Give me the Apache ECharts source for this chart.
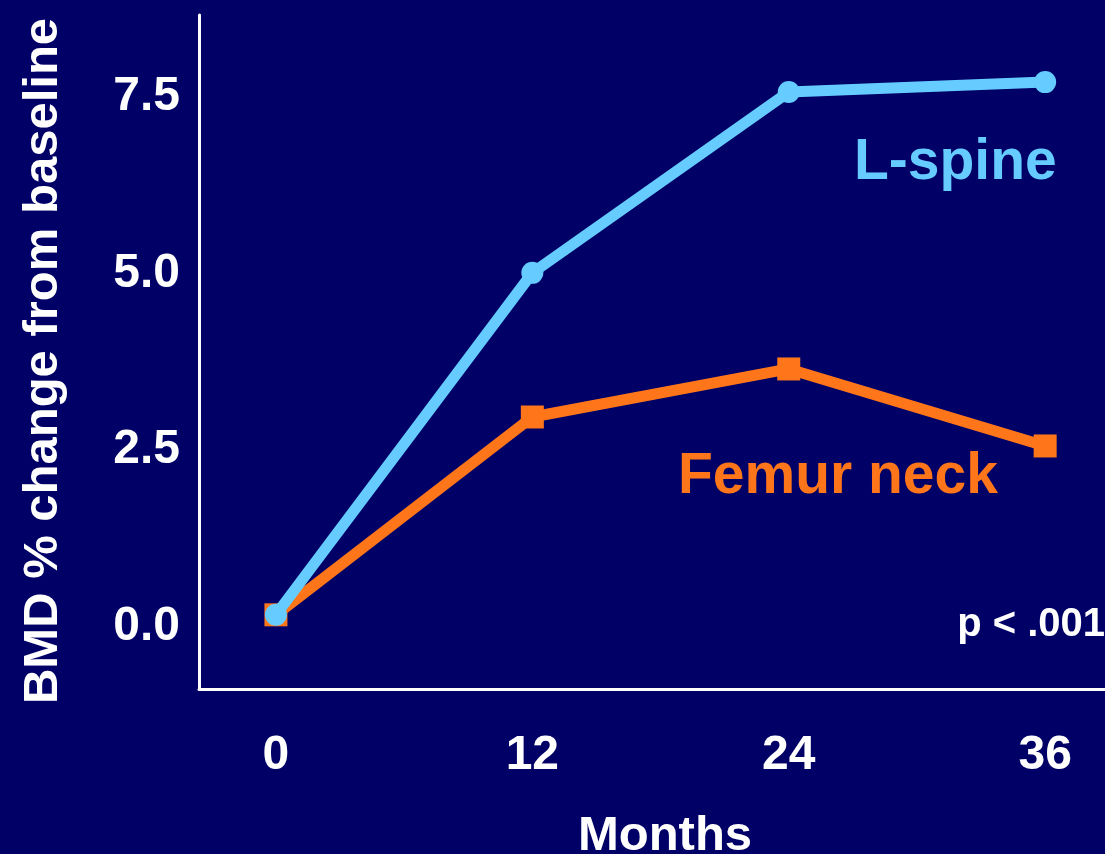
<!DOCTYPE html>
<html>
<head>
<meta charset="utf-8">
<script src="https://cdn.jsdelivr.net/npm/echarts@6/dist/echarts.min.js"></script>
<style>
html,body{margin:0;padding:0;background:#000066;}
#c{width:1105px;height:854px;}
</style>
</head>
<body>
<div id="c"></div>
<script>
const months = [0, 12, 24, 36];
const lSpine = [0, 4.84, 7.4, 7.54];
const femurNeck = [0, 2.8, 3.48, 2.39];
const yTicks = [0, 2.5, 5.0, 7.5];
const xTicks = [0, 12, 24, 36];

const FONT = '"Liberation Sans", Arial, sans-serif';
const BLUE = '#66ccff';
const ORANGE = '#ff761a';

const chart = echarts.init(document.getElementById('c'));
chart.setOption({
  backgroundColor: '#000066',
  animation: false,
  grid: { left: 199, right: 0, top: 15, bottom: 165, containLabel: false, outerBoundsMode: 'none' },
  xAxis: {
    type: 'value',
    min: -3.6, max: 38.8,
    name: 'Months',
    nameLocation: 'middle',
    nameGap: 123,
    nameTextStyle: { color: '#fff', fontSize: 49, fontWeight: 'bold', fontFamily: FONT, padding: [0, 0, 0, 26] },
    axisLine: { onZero: false, lineStyle: { color: '#fff', width: 3 } },
    axisTick: { show: false },
    splitLine: { show: false },
    axisLabel: {
      customValues: xTicks,
      color: '#fff', fontSize: 48, fontWeight: 'bold', fontFamily: FONT,
      margin: 43
    }
  },
  yAxis: {
    type: 'value',
    min: -1.05, max: 8.49,
    name: 'BMD % change from baseline',
    nameLocation: 'middle',
    nameRotate: 90,
    nameGap: 131,
    nameTextStyle: { color: '#fff', fontSize: 49, fontWeight: 'bold', fontFamily: FONT, padding: [0, 18, 0, 0] },
    axisLine: { show: true, onZero: false, lineStyle: { color: '#fff', width: 3 } },
    axisTick: { show: false },
    splitLine: { show: false },
    axisLabel: {
      customValues: yTicks,
      formatter: v => v.toFixed(1),
      color: '#fff', fontSize: 48, fontWeight: 'bold', fontFamily: FONT,
      margin: 19,
      verticalAlign: 'top',
      lineHeight: 24
    }
  },
  series: [
    {
      name: 'Femur neck', type: 'line',
      data: months.map((m, i) => [m, femurNeck[i]]),
      symbol: 'rect', symbolSize: 23,
      lineStyle: { color: ORANGE, width: 11 },
      itemStyle: { color: ORANGE },
      z: 2
    },
    {
      name: 'L-spine', type: 'line',
      data: months.map((m, i) => [m, lSpine[i]]),
      symbol: 'circle', symbolSize: 22,
      lineStyle: { color: BLUE, width: 11 },
      itemStyle: { color: BLUE },
      z: 3
    }
  ],
  graphic: [
    { type: 'text', left: 854, top: 135,
      style: { text: 'L-spine', fill: BLUE, font: 'bold 57px ' + FONT } },
    { type: 'text', left: 678, top: 449,
      style: { text: 'Femur neck', fill: ORANGE, font: 'bold 57px ' + FONT } },
    { type: 'text', right: 0, top: 605,
      style: { text: 'p < .001', fill: '#fff', font: 'bold 40px ' + FONT } }
  ]
});
</script>
</body>
</html>
